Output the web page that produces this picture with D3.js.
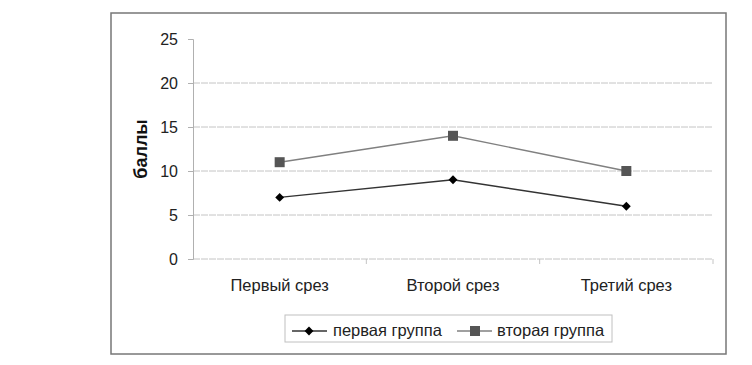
<!DOCTYPE html>
<html><head><meta charset="utf-8">
<script src="https://cdn.jsdelivr.net/npm/d3@7"></script>
<style>body{margin:0;background:#fff}svg{display:block}text{font-family:"Liberation Sans",Arial,sans-serif}</style>
</head><body><svg id="c" width="752" height="365"></svg>
<script>
const categories = ["Первый срез", "Второй срез", "Третий срез"];
const group1 = [7, 9, 6];
const group2 = [11, 14, 10];
const seriesNames = ["первая группа", "вторая группа"];
const yTicks = [0, 5, 10, 15, 20, 25];
const yTitle = "баллы";

const svg = d3.select("#c");
const m = {l: 193, r: 713, t: 39, b: 259};
const x = d3.scaleBand().domain(categories).range([m.l, m.r]);
const y = d3.scaleLinear().domain([0, 25]).range([m.b, m.t]);
const FF = '"Liberation Sans",Arial,sans-serif';

// outer frame
svg.append("rect").attr("x", 111).attr("y", 13).attr("width", 615).attr("height", 341)
  .attr("fill", "none").attr("stroke", "#777").attr("stroke-width", 1.5);

// grid (no line at the top value)
svg.append("g").selectAll("line").data(yTicks.filter(d => d < 25)).join("line")
  .attr("x1", m.l).attr("x2", m.r).attr("y1", d => y(d)).attr("y2", d => y(d))
  .attr("stroke", "#c4c4c4").attr("stroke-width", 1).attr("stroke-dasharray", "7,1");

// y axis
const ya = svg.append("g").attr("transform", `translate(${m.l},0)`)
  .call(d3.axisLeft(y).tickValues(yTicks).tickSize(5).tickPadding(10));
ya.select(".domain").attr("stroke", "#b0b0b0");
ya.selectAll(".tick line").attr("stroke", "#b0b0b0");
ya.selectAll("text").attr("font-size", 16).attr("fill", "#222").attr("font-family", FF);

// x axis labels
const xa = svg.append("g").attr("transform", `translate(0,${m.b})`)
  .call(d3.axisBottom(x).tickSize(0).tickPadding(20));
xa.select(".domain").remove();
xa.selectAll("text").attr("font-size", 16.5).attr("fill", "#222").attr("font-family", FF);
// category separator ticks
svg.append("g").selectAll("line").data(categories).join("line")
  .attr("x1", d => x(d) + x.bandwidth()).attr("x2", d => x(d) + x.bandwidth())
  .attr("y1", m.b).attr("y2", m.b + 5).attr("stroke", "#c4c4c4");

// y title
svg.append("text").attr("transform", `translate(147,${(m.t + m.b) / 2}) rotate(-90)`)
  .attr("text-anchor", "middle").attr("font-size", 18).attr("font-weight", "bold")
  .attr("fill", "#111").text(yTitle);

const cx = d => x(d) + x.bandwidth() / 2;
const line = d3.line().x((d, i) => cx(categories[i])).y(d => y(d));
const diamond = d3.symbol().type(d3.symbolDiamond2).size(50);

// series 2
svg.append("path").datum(group2).attr("d", line).attr("fill", "none")
  .attr("stroke", "#808080").attr("stroke-width", 1.4);
svg.append("g").selectAll("rect").data(group2).join("rect")
  .attr("x", (d, i) => cx(categories[i]) - 5).attr("y", d => y(d) - 5)
  .attr("width", 10).attr("height", 10).attr("fill", "#555");

// series 1
svg.append("path").datum(group1).attr("d", line).attr("fill", "none")
  .attr("stroke", "#333").attr("stroke-width", 1.4);
svg.append("g").selectAll("path").data(group1).join("path")
  .attr("transform", (d, i) => `translate(${cx(categories[i])},${y(d)})`)
  .attr("d", diamond).attr("fill", "#000");

// legend
const lg = svg.append("g");
lg.append("rect").attr("x", 285).attr("y", 315).attr("width", 327).attr("height", 27)
  .attr("fill", "#fff").attr("stroke", "#c0c0c0");
const ly = 331;
lg.append("line").attr("x1", 292).attr("x2", 327).attr("y1", ly).attr("y2", ly).attr("stroke", "#333").attr("stroke-width", 1.4);
lg.append("path").attr("transform", `translate(309,${ly})`).attr("d", diamond).attr("fill", "#000");
lg.append("text").attr("x", 333).attr("y", ly + 5).attr("font-size", 16.5).attr("fill", "#222").text(seriesNames[0]);
lg.append("line").attr("x1", 457).attr("x2", 492).attr("y1", ly).attr("y2", ly).attr("stroke", "#808080").attr("stroke-width", 1.4);
lg.append("rect").attr("x", 470).attr("y", ly - 5).attr("width", 10).attr("height", 10).attr("fill", "#555");
lg.append("text").attr("x", 497).attr("y", ly + 5).attr("font-size", 16.5).attr("fill", "#222").text(seriesNames[1]);
</script></body></html>
